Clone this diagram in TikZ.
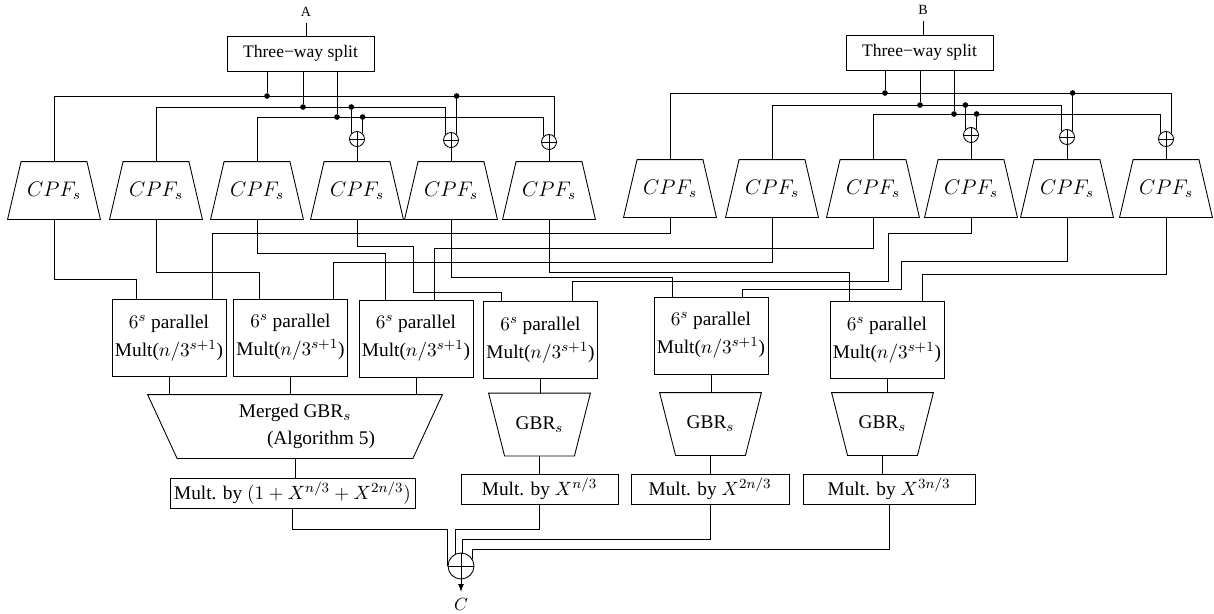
\documentclass[tikz,border=0pt]{standalone}
\usepackage{fontspec}
\setmainfont{Liberation Serif}
\usetikzlibrary{arrows}
\newcommand{\SumArrowType}{latex}

\begin{document}
\begin{tikzpicture}[>=\SumArrowType, x=0.02cm, y=-0.02cm, line width=0.5pt,
        splitbox/.style={draw, minimum width=2.94cm, minimum height=0.7cm,
                inner sep=0pt, font=\normalsize},
        cpf/.style={minimum width=1.84cm, minimum height=1.14cm, inner sep=0pt,
                font=\large},
        mulbox/.style={draw, minimum width=2.28cm, minimum height=1.54cm,
                inner sep=0pt, align=center, font=\fontsize{11}{14}\selectfont},
        gbr/.style={minimum width=2.02cm, minimum height=1.24cm, inner sep=0pt,
                font=\fontsize{11}{13}\selectfont},
        shiftbox/.style={draw, minimum height=0.6cm, inner sep=0pt,
                font=\fontsize{11}{13}\selectfont},
        xorgate/.style={draw, circle, inner sep=0pt, minimum size=#1,
                path picture={\draw (path picture bounding box.north)
                        -- (path picture bounding box.south)
                        (path picture bounding box.west)
                        -- (path picture bounding box.east);}},
        junction/.style={circle, fill, inner sep=0pt, minimum size=3.2pt}]

                \useasboundingbox (0,0) rectangle (1214,613);

                % splitting of A and B
                \node[font=\footnotesize] (inA) at (306,12) {A};
                \node[splitbox] (splitA) at (300.5,53.5) {Three−way split};
                \node[font=\footnotesize] (inB) at (923,10) {B};
                \node[splitbox] (splitB) at (919.5,52.5) {Three−way split};
                \draw (inA.south) -- (inA.south |- splitA.north);
                \draw (inB.south) -- (inB.south |- splitB.north);

                \node[xorgate=0.3cm] (plA1) at (357,139) {};
                \node[xorgate=0.3cm] (plA2) at (451,140) {};
                \node[xorgate=0.3cm] (plA3) at (549,142) {};
                \node[xorgate=0.3cm] (plB1) at (971,135) {};
                \node[xorgate=0.3cm] (plB2) at (1067,137) {};
                \node[xorgate=0.3cm] (plB3) at (1166,139) {};

                % CPF blocks, narrow side up
                \foreach \i/\x in {1/54,2/156,3/257,4/357,5/451,6/549}
                        \node[cpf] (cpfA\i) at (\x,190.5) {$CPF_s$};
                \foreach \i/\x in {1/670,2/772,3/873,4/971,5/1067,6/1166}
                        \node[cpf] (cpfB\i) at (\x,188.5) {$CPF_s$};
                \foreach \n in {cpfA1,cpfA2,cpfA3,cpfA4,cpfA5,cpfA6,
                                cpfB1,cpfB2,cpfB3,cpfB4,cpfB5,cpfB6}
                        \draw ([xshift=0.27cm]\n.north west)
                                -- ([xshift=-0.27cm]\n.north east)
                                -- (\n.south east) -- (\n.south west) -- cycle;

                % buses of A
                \node[junction] (jA1) at (267,96) {};
                \node[junction] (jA2) at (303,107) {};
                \node[junction] (jA3) at (337,117) {};
                \foreach \j in {jA1,jA2,jA3}
                        \draw (\j |- splitA.south) -- (\j);
                \draw (cpfA1.north) |- (plA3.45 |- jA1) -- (plA3.45);
                \draw (cpfA2.north) |- (plA2.135 |- jA2) -- (plA2.135);
                \draw (cpfA3.north) |- (plA3.135 |- jA3) -- (plA3.135);
                \node[junction] (tA1) at (plA1.135 |- jA2) {};
                \node[junction] (tA2) at (plA1.45 |- jA3) {};
                \node[junction] (tA3) at (plA2.45 |- jA1) {};
                \draw (tA1) -- (plA1.135);
                \draw (tA2) -- (plA1.45);
                \draw (tA3) -- (plA2.45);
                \draw (plA1.south) -- (cpfA4.north);
                \draw (plA2.south) -- (cpfA5.north);
                \draw (plA3.south) -- (cpfA6.north);

                % buses of B
                \node[junction] (jB1) at (885,93) {};
                \node[junction] (jB2) at (920,105) {};
                \node[junction] (jB3) at (954,114) {};
                \foreach \j in {jB1,jB2,jB3}
                        \draw (\j |- splitB.south) -- (\j);
                \draw (cpfB1.north) |- (plB3.45 |- jB1) -- (plB3.45);
                \draw (cpfB2.north) |- (plB2.135 |- jB2) -- (plB2.135);
                \draw (cpfB3.north) |- (plB3.135 |- jB3) -- (plB3.135);
                \node[junction] (tB1) at (plB1.135 |- jB2) {};
                \node[junction] (tB2) at (plB1.45 |- jB3) {};
                \node[junction] (tB3) at (plB2.45 |- jB1) {};
                \draw (tB1) -- (plB1.135);
                \draw (tB2) -- (plB1.45);
                \draw (tB3) -- (plB2.45);
                \draw (plB1.south) -- (cpfB4.north);
                \draw (plB2.south) -- (cpfB5.north);
                \draw (plB3.south) -- (cpfB6.north);

                % products
                \foreach \i/\x/\y in {1/169/338,2/290.5/337.5,3/416/338.5,
                                4/540.5/340,5/711/335.5,6/887/340}
                        \node[mulbox] (mul\i) at (\x,\y)
                                {$6^s$ parallel\\[2pt]Mult($n/3^{s+1}$)};

                \draw (cpfA1.south) |- (136,279) -- (136,0 |- mul1.north);
                \draw (cpfA2.south) |- (259,272) -- (259,0 |- mul2.north);
                \draw (cpfA3.south) |- (385,253) -- (385,0 |- mul3.north);
                \draw (cpfA4.south) |- (413,246) |- (501,292)
                        -- (501,0 |- mul4.north);
                \draw (cpfA5.south) |- (672,277) -- (672,0 |- mul5.north);
                \draw (cpfA6.south) |- (849,272) -- (849,0 |- mul6.north);
                \draw (cpfB1.south) |- (212,233) -- (212,0 |- mul1.north);
                \draw (cpfB2.south) |- (333,262) -- (333,0 |- mul2.north);
                \draw (cpfB3.south) |- (434,248) -- (434,0 |- mul3.north);
                \draw (cpfB4.south) |- (888,233) |- (572,281)
                        -- (572,0 |- mul4.north);
                \draw (cpfB5.south) |- (901,261) |- (742,289)
                        -- (742,0 |- mul5.north);
                \draw (cpfB6.south) |- (922,274) -- (922,0 |- mul6.north);

                % recombination, wide side up
                \node[gbr, minimum width=5.88cm, minimum height=1.26cm, align=center]
                        (gbrM) at (295,426.5)
                        {Merged GBR$_s$\\[2pt]\hspace*{1.04cm}(Algorithm 5)};
                \draw (gbrM.north west) -- (gbrM.north east)
                        -- ([xshift=-0.59cm]gbrM.south east)
                        -- ([xshift=0.59cm]gbrM.south west) -- cycle;
                \node[gbr] (gbr4) at (539.5,424.5) {GBR$_s$};
                \node[gbr] (gbr5) at (710.5,424) {GBR$_s$};
                \node[gbr] (gbr6) at (882.5,424) {GBR$_s$};
                \foreach \n in {gbr4,gbr5,gbr6}
                        \draw (\n.north west) -- (\n.north east)
                                -- ([xshift=-0.32cm]\n.south east)
                                -- ([xshift=0.32cm]\n.south west) -- cycle;
                \foreach \i in {1,2,3}
                        \draw (mul\i.south) -- (mul\i.south |- gbrM.north);
                \draw (mul4.south) -- (mul4.south |- gbr4.north);
                \draw (mul5.south) -- (mul5.south |- gbr5.north);
                \draw (mul6.south) -- (mul6.south |- gbr6.north);

                \node[shiftbox, minimum width=4.9cm] (sh1) at (292.5,493)
                        {Mult. by $(1+X^{n/3}+X^{2n/3})$};
                \node[shiftbox, minimum width=3.14cm] (sh2) at (539.5,489)
                        {Mult. by $X^{n/3}$};
                \node[shiftbox, minimum width=3.16cm] (sh3) at (710,489)
                        {Mult. by $X^{2n/3}$};
                \node[shiftbox, minimum width=3.44cm] (sh4) at (889,489)
                        {Mult. by $X^{3n/3}$};
                \draw (gbrM.south) -- (gbrM.south |- sh1.north);
                \draw (gbr4.south) -- (gbr4.south |- sh2.north);
                \draw (gbr5.south) -- (gbr5.south |- sh3.north);
                \draw (gbr6.south) -- (gbr6.south |- sh4.north);

                \node[xorgate=0.52cm] (sum) at (461,566) {};
                \node (outC) at (461,604) {$C$};
                \draw (sh1.south) -- ++(0,21) -| (sum.west);
                \draw (sh2.south) -- ++(0,25) -| (sum.113);
                \draw (sh3.south) -- ++(0,35) -| (sum.85);
                \draw (sh4.south) -- ++(0,45) -| (sum.32);
                \draw[->] (sum.south) -- (outC.north);
            \end{tikzpicture}
\end{document}
